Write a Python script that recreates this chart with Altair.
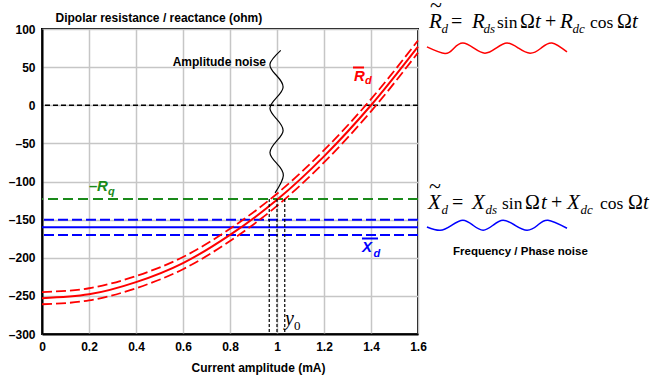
import altair as alt
import pandas as pd

# ---- data -----------------------------------------------------------------
# current amplitude (mA) and dipolar resistance R_d (ohm) with its +/- band
amp = [0.0, 0.2, 0.4, 0.6, 0.8, 1.0, 1.2, 1.4, 1.6]
rd_mean = [-253, -248, -232, -207, -170, -124, -67, 0, 77]
rd_high = [-245, -240, -224, -199, -162, -116, -59, 8, 85]
rd_low = [-261, -256, -240, -215, -178, -132, -75, -8, 69]

# loss level -R_q and reactance X_d with its band (ohm)
rq_level = -123
xd_mean = -160
xd_band = [-150, -170]

# operating amplitude and its spread (mA)
y0_amps = [0.967, 1.0, 1.033]

# amplitude-noise trace drawn around the operating point
noise_amp = [1.016, 0.970, 0.998, 1.026, 0.998, 0.970, 0.998, 1.026, 0.998,
             0.970, 0.998, 1.027, 0.992]
noise_ohm = [72, 54, 39, 24, 10, -4, -18, -33, -47, -62, -76, -92, -115]

# small waveforms next to the two modulation formulas
wave_r_amp = [1.638, 1.715, 1.753, 1.791, 1.838, 1.885, 1.932, 1.979, 2.028,
              2.077, 2.123, 2.170, 2.234]
wave_r_ohm = [76.5, 67.8, 74.8, 81.7, 74.8, 68.2, 74.8, 81.7, 74.8, 68.2,
              74.8, 81.7, 69.9]
wave_x_amp = [1.638, 1.694, 1.743, 1.791, 1.834, 1.877, 1.919, 1.962, 2.013,
              2.064, 2.109, 2.153, 2.234]
wave_x_ohm = [-159.6, -163.9, -157.4, -150.8, -157.4, -163.9, -157.4, -150.8,
              -157.4, -163.9, -157.4, -150.8, -161.3]

x_ticks = [0, 0.2, 0.4, 0.6, 0.8, 1, 1.2, 1.4, 1.6]
y_ticks = [-300, -250, -200, -150, -100, -50, 0, 50, 100]

# ---- layout ---------------------------------------------------------------
LEFT, TOP, W, H = 42, 29, 376, 305
RED, BLUE, GREEN = "#ff0000", "#0000ff", "#1a8a1a"
SANS, SERIF = "Liberation Sans", "Liberation Serif"

xs = alt.Scale(domain=[0, 1.6], nice=False, zero=False)
ys = alt.Scale(domain=[-300, 100], nice=False, zero=False)

x_axis = alt.Axis(values=x_ticks, format="~g", title="Current amplitude (mA)",
                  titleX=216, titleY=37, titleBaseline="alphabetic",
                  titleAlign="center", labelPadding=7, ticks=False,
                  labelFlush=False, labelOverlap=False)
y_axis = alt.Axis(values=y_ticks, format="d",
                  labelExpr="datum.value < 0 ? '\u2013' + abs(datum.value) : datum.label",
                  title="Dipolar resistance / reactance (ohm)",
                  titleAngle=0, titleAlign="left", titleX=13, titleY=-8,
                  titleBaseline="alphabetic", labelPadding=7, ticks=False,
                  labelFlush=False, labelOverlap=False)


def X(field="amp"):
    return alt.X(f"{field}:Q", scale=xs, axis=x_axis)


def Y(field="ohm"):
    return alt.Y(f"{field}:Q", scale=ys, axis=y_axis)


def hline(level, color, width, dash=None):
    kw = dict(color=color, strokeWidth=width)
    if dash:
        kw["strokeDash"] = dash
    return alt.Chart(pd.DataFrame({"ohm": [level]})).mark_rule(**kw).encode(y=Y())


def curve(xv, yv, color, width, dash=None, interp="monotone"):
    df = pd.DataFrame({"amp": xv, "ohm": yv, "i": list(range(len(xv)))})
    kw = dict(color=color, strokeWidth=width, interpolate=interp)
    if dash:
        kw["strokeDash"] = dash
    return alt.Chart(df).mark_line(**kw).encode(x=X(), y=Y(), order="i:Q")


anchor = pd.DataFrame({"k": [0]})


def label(text, px, py, size, color="black", weight="normal", style="normal",
          font=SANS, align="left", baseline="alphabetic"):
    return alt.Chart(anchor).mark_text(
        text=text, font=font, fontSize=size, fontWeight=weight,
        fontStyle=style, color=color, align=align, baseline=baseline
    ).encode(x=alt.value(px - LEFT), y=alt.value(py - TOP))


def bar_over(x1, x2, py, color):
    return alt.Chart(anchor).mark_rule(color=color, strokeWidth=2).encode(
        x=alt.value(x1 - LEFT), x2=alt.value(x2 - LEFT), y=alt.value(py - TOP))


layers = [
    hline(0, "black", 1.5, [5, 3]),
    hline(rq_level, GREEN, 2, [10, 5]),
    hline(xd_band[0], BLUE, 2, [10, 4]),
    hline(xd_mean, BLUE, 2.2),
    hline(xd_band[1], BLUE, 2, [10, 4]),
    curve(amp, rd_high, RED, 1.8, [10, 4]),
    curve(amp, rd_mean, RED, 2),
    curve(amp, rd_low, RED, 1.8, [10, 4]),
    alt.Chart(pd.DataFrame({"amp": y0_amps, "ohm": [rq_level] * 3,
                            "ohm2": [-300] * 3}))
    .mark_rule(color="black", strokeWidth=1.2, strokeDash=[3, 2])
    .encode(x=X(), y=Y(), y2="ohm2:Q"),
    curve(noise_amp, noise_ohm, "black", 1.2, interp="natural"),
    curve(wave_r_amp, wave_r_ohm, RED, 1.5, interp="natural"),
    curve(wave_x_amp, wave_x_ohm, BLUE, 1.5, interp="natural"),
]

# curve labels
layers += [
    label("Amplitude noise", 266, 66, 12, weight="bold", align="right"),
    bar_over(353, 364, 67.5, RED),
    label("R", 354, 80.5, 15, RED, "bold", "italic"),
    label("d", 365, 84, 11, RED, "bold", "italic"),
    label("\u2013", 89, 191, 15, GREEN, "bold"),
    label("R", 97, 191, 15, GREEN, "bold", "italic"),
    label("q", 108, 195, 11, GREEN, "bold", "italic"),
    bar_over(362, 378, 238.5, BLUE),
    label("X", 362, 252, 15, BLUE, "bold", "italic"),
    label("d", 373.5, 257, 11, BLUE, "bold", "italic"),
    label("y", 285, 325, 20, style="italic", font=SERIF),
    label("0", 294, 330, 13, font=SERIF),
    label("Frequency / Phase noise", 453, 255, 11.5, weight="bold"),
]


def formula(base, xs_main, xs_roman, xs_words, xs_sub, tilde_x):
    sub_base = base + 5.5
    parts = [label("~", tilde_x, base - 16, 22, font=SERIF, align="center")]
    for t, px in xs_main:
        parts.append(label(t, px, base, 21, style="italic", font=SERIF))
    for t, px in xs_roman:
        parts.append(label(t, px, base, 20, font=SERIF))
    for t, px in xs_words:
        parts.append(label(t, px, base, 17.5, font=SERIF))
    for t, px in xs_sub:
        parts.append(label(t, px, sub_base, 13, style="italic", font=SERIF))
    return parts


# R~_d = R_ds sin(Omega t) + R_dc cos(Omega t)
layers += formula(
    27.5,
    [("R", 429), ("R", 472), ("t", 535), ("R", 560), ("t", 632)],
    [("=", 451), ("\u03a9", 520), ("+", 545), ("\u03a9", 617)],
    [("sin", 497), ("cos", 590)],
    [("d", 441.5), ("ds", 483.5), ("dc", 572.5)],
    436,
)
# X~_d = X_ds sin(Omega t) + X_dc cos(Omega t)
layers += formula(
    208.5,
    [("X", 428), ("X", 472), ("t", 541), ("X", 567), ("t", 643)],
    [("=", 452), ("\u03a9", 525), ("+", 551), ("\u03a9", 628)],
    [("sin", 502), ("cos", 600)],
    [("d", 441.5), ("ds", 485.5), ("dc", 580.5)],
    435,
)

chart = (
    alt.layer(*layers)
    .properties(width=W, height=H, autosize=alt.AutoSizeParams(type="none"),
                padding={"left": LEFT, "top": TOP, "right": 654 - LEFT - W,
                         "bottom": 377 - TOP - H})
    .configure_axis(labelFont=SANS, labelFontSize=12, labelFontWeight="bold",
                    labelColor="black", titleFont=SANS, titleFontSize=12,
                    titleFontWeight="bold", titleColor="black",
                    gridColor="#c6c6c6", gridWidth=1.5, domainColor="black",
                    domainWidth=2)
    .configure_view(stroke="black", strokeWidth=2)
)

chart.save("out.html", embed_options={"renderer": "svg", "actions": False})
